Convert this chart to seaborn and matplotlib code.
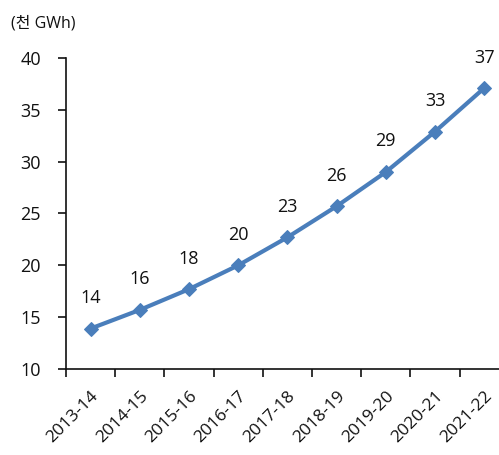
import matplotlib
matplotlib.use("Agg")
import matplotlib.pyplot as plt
import seaborn as sns
import pandas as pd
import numpy as np

# Fiscal years and electricity demand (thousand GWh)
years = ["2013-14", "2014-15", "2015-16", "2016-17", "2017-18",
         "2018-19", "2019-20", "2020-21", "2021-22"]
demand = [13.9, 15.7, 17.7, 20.0, 22.7, 25.7, 29.0, 32.9, 37.1]
y_ticks = [10, 15, 20, 25, 30, 35, 40]
unit_label = "(천 GWh)"

sns.set_theme(style="white")
plt.rcParams["font.family"] = ["Open Sans", "Noto Sans CJK KR", "DejaVu Sans"]

df = pd.DataFrame({"year": years, "demand": demand, "pos": np.arange(len(years))})

fig = plt.figure(figsize=(4.99, 4.55), dpi=100)
W, H = 499, 455
left, right, bottom, top = 66, 499, 369, 58
ax = fig.add_axes([left / W, (H - bottom) / H, (right - left) / W, (bottom - top) / H])

text_color = "#111111"
line_color = "#4a7ebb"
sns.lineplot(data=df, x="pos", y="demand", ax=ax, color=line_color,
             linewidth=3, marker="D", markersize=7.5, markeredgecolor=line_color,
             markerfacecolor=line_color)

for x, v in zip(df["pos"], df["demand"]):
    ax.annotate(f"{v:.0f}", (x, v), xytext=(0, 22), textcoords="offset points",
                ha="center", va="center", fontsize=13, color=text_color)

span = (right - left) / 49.2
ax.set_xlim(-0.5, -0.5 + span)
ax.set_ylim(10, 40)
ax.set_yticks(y_ticks)
ax.set_yticklabels([str(t) for t in y_ticks], fontsize=13, color=text_color)

# category labels centred on points, tick marks between categories
ax.set_xticks(np.arange(len(years)))
ax.set_xticklabels(years, rotation=45, ha="right", rotation_mode="anchor",
                   fontsize=12.5, color=text_color)
ax.tick_params(axis="x", which="major", length=0, pad=14)
ax.set_xticks(np.arange(len(years)) - 0.5, minor=True)
ax.tick_params(axis="x", which="minor", length=6, width=1.2, color=text_color,
               direction="out", bottom=True)
ax.tick_params(axis="y", length=6, width=1.2, color=text_color, direction="out",
               left=True, pad=12)

ax.set_xlabel("")
ax.set_ylabel("")
for side in ["top", "right"]:
    ax.spines[side].set_visible(False)
for side in ["left", "bottom"]:
    ax.spines[side].set_color(text_color)
    ax.spines[side].set_linewidth(1.2)

fig.text(11 / W, (H - 24) / H, unit_label, fontsize=11.5, color=text_color,
         ha="left", va="center")

fig.savefig("out.png", dpi=100)
